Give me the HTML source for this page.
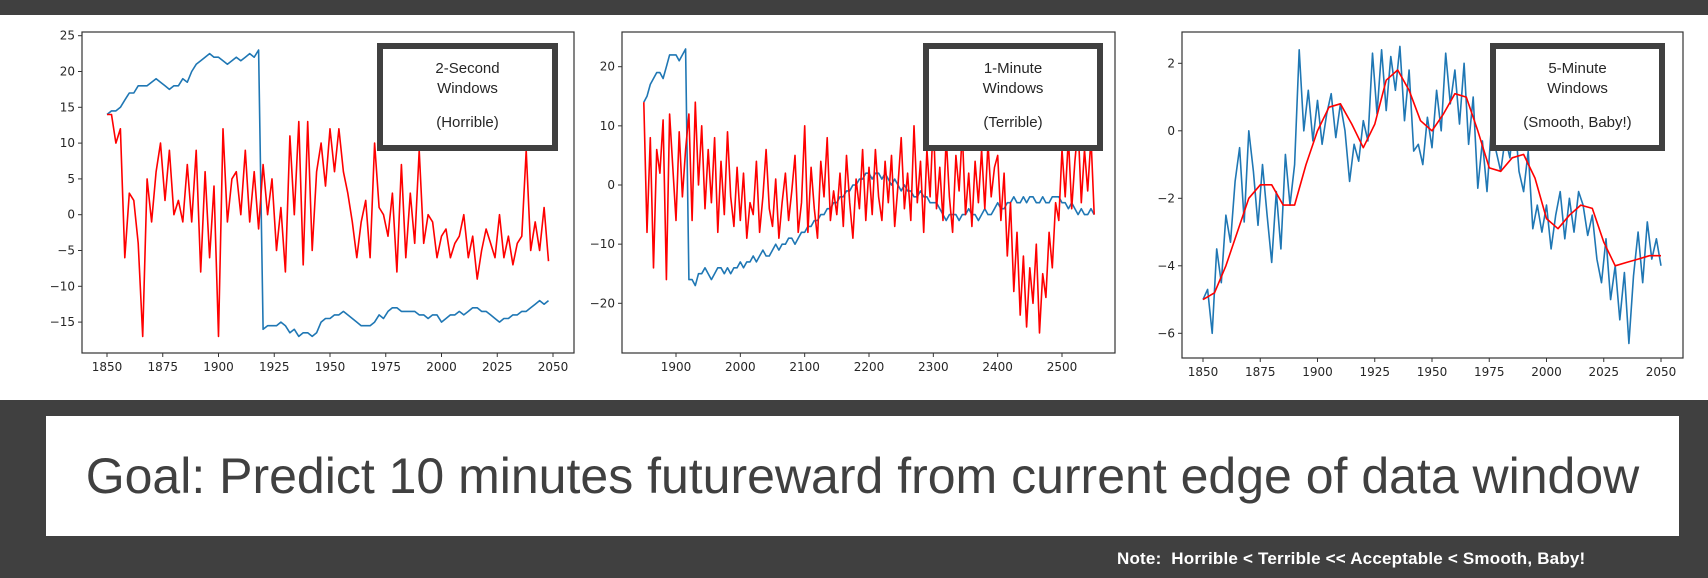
<!DOCTYPE html>
<html><head><meta charset="utf-8">
<style>
html,body{margin:0;padding:0;}
body{width:1708px;height:578px;position:relative;background:#404040;overflow:hidden;font-family:"Liberation Sans",sans-serif;}
#top{position:absolute;left:0;top:15px;width:1708px;height:385px;background:#fff;}
svg{position:absolute;left:0;top:0;}
.box{position:absolute;border:6px solid #404040;background:#fff;text-align:center;font-family:"Liberation Sans",sans-serif;font-size:15px;color:#262626;box-sizing:border-box;line-height:20px;padding-top:10px;}
.box .sub{margin-top:14px;}
#goal{position:absolute;left:46px;top:416px;width:1633px;height:120px;background:#fff;display:flex;align-items:center;justify-content:center;font-size:50px;color:#404040;}
#note{position:absolute;left:1117px;top:549px;font-size:17px;font-weight:bold;color:#fff;letter-spacing:0.2px;}
</style></head>
<body>
<div id="top"></div>
<svg id="svg" width="1708" height="578"></svg>
<div class="box" style="left:377px;top:43px;width:181px;height:108px;">2-Second<br>Windows<div class="sub">(Horrible)</div></div>
<div class="box" style="left:923px;top:43px;width:180px;height:108px;">1-Minute<br>Windows<div class="sub">(Terrible)</div></div>
<div class="box" style="left:1490px;top:43px;width:175px;height:108px;">5-Minute<br>Windows<div class="sub">(Smooth, Baby!)</div></div>
<div id="goal">Goal: Predict 10 minutes futureward from current edge of data window</div>
<div id="note">Note:&nbsp; Horrible &lt; Terrible &lt;&lt; Acceptable &lt; Smooth, Baby!</div>
<script>
// Chart 1 (2-second windows)
const c1Start=1850, c1Step=2;
const c1Blue=[14,14.5,14.5,15,16,17,17,18,18,18,18.5,19,18.5,18,17.5,18,18,19,18.5,20,21,21.5,22,22.5,22,22,21.5,21,21.5,22,21.5,22,22.5,22,23,
-16,-15.5,-15.5,-15.5,-15,-15.5,-16.5,-16,-17,-16.5,
-16.5,-17,-16.5,-15,-14.5,-14.5,-14,-14,-13.5,-14,
-14.5,-15,-15.5,-15.5,-15.5,-15,-14,-14.5,-13.5,-13,
-13,-13.5,-13.5,-13.5,-13.5,-14,-14,-14.5,-14,-14,
-15,-14.5,-14,-14,-13.5,-14,-13.5,-13,-13,-13.5,
-13.5,-14,-14.5,-15,-14.5,-14.5,-14,-14,-13.5,-13.5,
-13,-12.5,-12,-12.5,-12];
const c1Red=[14,14,10,12,-6,3,2,-4,-17,5,-1,6,10,2,9,0,2,-1,7,-1,9,-8,6,-6,4,-17,12,-1,5,6,0,9,-1,6,-2,7,0,5,-5,1,-8,11,0,13,-7,13,-5,6,10,4,12,6,12,6,3,-1,-6,-1,2,-6,10,1,0,-3,3,-8,7,-6,3,-4,9,-4,0,-1,-6,-3,-2,-6,-4,-3,0,-6,-3,-9,-5,-2,-4,-6,0,-6,-3,-7,-4,-3,9,-5,-1,-5,1,-6.5];
const c1XTicks=[1850,1875,1900,1925,1950,1975,2000,2025,2050];
const c1YTicks=[25,20,15,10,5,0,-5,-10,-15];
// Chart 2 (1-minute windows)
const c2Start=1850, c2Step=5;
const c2Blue=[14,15,17,18,19,19,18,20,22,22,22,21,22,23,
-16,-16,-17,-15,-15,-14,-15,-16,-15,-14,-14,-15,-14,-15,-14,-14,
-13,-14,-13,-13,-12,-13,-12,-11,-12,-12,-11,-10,-11,-10,-10,-9,-9,-10,-9,-8,
-8,-7,-7,-6,-6,-5,-5,-4,-4,-3,-3,-2,-2,-1,-1,0,0,1,1,2,
2,1,2,2,1,2,1,0,1,0,-1,0,-1,-1,-2,-2,-1,-2,-2,-3,
-3,-3,-4,-5,-6,-5,-5,-5,-6,-5,-5,-4,-5,-5,-6,-5,-4,-5,-5,-4,
-3,-4,-4,-3,-3,-2,-3,-3,-2,-3,-2,-2,-3,-3,-2,-3,-3,-2,-2,-2,
-3,-3,-4,-3,-4,-5,-4,-5,-5,-4,-5];
const c2Red=[14,-8,8,-14,6,2,11,-16,12,3,-6,9,-2,6,
12,-6,14,0,10,-4,6,-3,8,-8,4,-5,9,-2,-7,3,
-6,2,-9,-3,-5,4,-8,-2,6,-4,-7,1,-9,-3,2,-6,-1,5,-8,-3,
10,-8,3,-4,-9,4,-2,8,-6,-1,-5,2,-7,5,-3,-9,1,-4,6,-6,
3,-5,6,-2,-6,4,-3,5,-7,0,8,-4,2,-6,10,-3,4,-8,6,-2,
11,-4,3,-6,8,-2,-8,5,-1,9,-5,2,-7,4,-3,6,-4,7,-2,3,
5,-6,2,-12,-3,-18,-8,-22,-12,-24,-14,-20,-10,-25,-15,-19,-8,-14,-3,-6,
6,-2,8,-4,4,10,-3,6,-1,8,-5];
const c2XTicks=[1900,2000,2100,2200,2300,2400,2500];
const c2YTicks=[20,10,0,-10,-20];
// Chart 3 (5-minute windows)
const c3BlueStart=1850, c3BlueStep=2;
const c3Blue=[-5,-4.7,-6,-3.5,-4.5,-2.5,-3.3,-1.5,-0.5,-2.7,
0,-1.2,-2.8,-1,-2.5,-3.9,-1.8,-3.5,-0.7,-2.2,
-1,2.4,0,1.2,-0.3,0.9,-0.4,0.5,1.1,-0.2,
0.8,0,-1.5,-0.4,-0.9,0.3,-0.3,2.3,0.5,2.4,
0.6,2.2,1.2,2.5,0.3,1.8,-0.6,-0.4,-1.0,0.4,
-0.5,1.2,0,2.3,0.8,1.8,0.2,2.0,-0.4,1.0,
-1.7,-0.3,-1.8,0.2,-0.6,-1.2,-0.2,-0.8,0.5,-1.2,
-1.8,-0.6,-2.9,-2.2,-3.0,-2.2,-3.5,-2.5,-1.8,-3.2,
-2.0,-3.0,-1.8,-2.2,-3.1,-2.5,-3.8,-4.5,-3.2,-5.0,
-4.0,-5.6,-4.2,-6.3,-4.3,-3.0,-4.5,-2.7,-3.8,-3.2,-4.0];
const c3RedStart=1850, c3RedStep=5;
const c3Red=[-5,-4.8,-4,-3,-2,-1.6,-1.6,-2.2,-2.2,-1,0,0.7,0.8,0.2,-0.5,0.2,1.5,1.8,1.2,0.3,0,0.5,1.1,1.0,0,-1.1,-1.2,-0.8,-0.7,-1.4,-2.6,-2.9,-2.5,-2.2,-2.3,-3.3,-4.0,-3.9,-3.8,-3.7,-3.7];
const c3XTicks=[1850,1875,1900,1925,1950,1975,2000,2025,2050];
const c3YTicks=[2,0,-2,-4,-6];

const NS='http://www.w3.org/2000/svg';
const svg=document.getElementById('svg');
function el(tag,attrs,parent){const e=document.createElementNS(NS,tag);for(const k in attrs)e.setAttribute(k,attrs[k]);(parent||svg).appendChild(e);return e;}
function lin(d0,d1,r0,r1){return v=>r0+(v-d0)*(r1-r0)/(d1-d0);}

function chart(cfg){
  const g=el('g',{});
  
  
  const x=cfg.x,y=cfg.y;
  cfg.series.forEach(s=>{
    const pts=s.vals.map((v,i)=>x(s.start+i*s.step).toFixed(1)+','+y(v).toFixed(1)).join(' ');
    const p=el('polyline',{points:pts,fill:'none',stroke:s.color,'stroke-width':1.6,'stroke-linejoin':'round'},g);
    
    
  });
  const f=el('rect',{x:cfg.l,y:cfg.t,width:cfg.r-cfg.l,height:cfg.b-cfg.t,fill:'none',stroke:'#333','stroke-width':1.2},g);
  
  
  cfg.xt.forEach(v=>{
    const px=x(v);
    el('line',{x1:px,x2:px,y1:cfg.b,y2:cfg.b+4,stroke:'#333'},g);
    const t=el('text',{x:px,y:cfg.b+18,'text-anchor':'middle','font-size':12,fill:'#262626','font-family':'DejaVu Sans, sans-serif'},g);
    t.textContent=v;
    
    
  });
  cfg.yt.forEach(v=>{
    const py=y(v);
    el('line',{x1:cfg.l-4,x2:cfg.l,y1:py,y2:py,stroke:'#333'},g);
    const t=el('text',{x:cfg.l-7,y:py+4,'text-anchor':'end','font-size':12,fill:'#262626','font-family':'DejaVu Sans, sans-serif'},g);
    t.textContent=(v<0?'\u2212'+(-v):v);
    
    
  });
}
chart({name:'chart-2-second',l:82,r:574,t:32,b:353,x:lin(1850,2050,107,553),y:lin(0,25,214.7,35.7),xt:c1XTicks,yt:c1YTicks,
  series:[{name:'blue-series',vals:c1Blue,start:c1Start,step:c1Step,color:'#1f77b4'},{name:'red-series',vals:c1Red,start:c1Start,step:c1Step,color:'#ff0000'}]});
chart({name:'chart-1-minute',l:622,r:1115,t:32,b:353,x:lin(1900,2500,676,1062),y:lin(0,20,185,66.7),xt:c2XTicks,yt:c2YTicks,
  series:[{name:'blue-series',vals:c2Blue,start:c2Start,step:c2Step,color:'#1f77b4'},{name:'red-series',vals:c2Red,start:c2Start,step:c2Step,color:'#ff0000'}]});
chart({name:'chart-5-minute',l:1182,r:1683,t:32,b:358,x:lin(1850,2050,1203,1661),y:lin(0,2,130.8,63.3),xt:c3XTicks,yt:c3YTicks,
  series:[{name:'blue-series',vals:c3Blue,start:c3BlueStart,step:c3BlueStep,color:'#1f77b4'},{name:'red-series',vals:c3Red,start:c3RedStart,step:c3RedStep,color:'#ff0000'}]});
</script>
</body></html>
